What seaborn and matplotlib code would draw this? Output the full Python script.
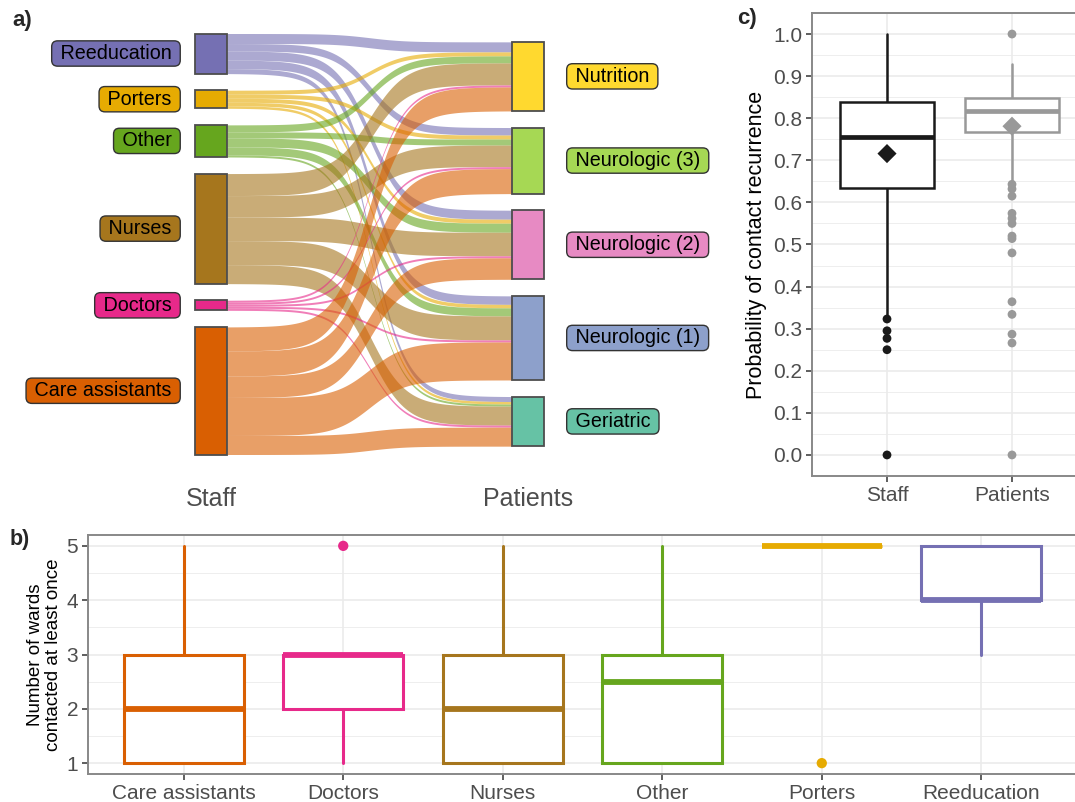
import numpy as np
import matplotlib
matplotlib.use('Agg')
import matplotlib.pyplot as plt
from matplotlib.ticker import MultipleLocator, NullLocator
import seaborn as sns

staff = ['Reeducation', 'Porters', 'Other', 'Nurses', 'Doctors', 'Care assistants']
wards = ['Nutrition', 'Neurologic (3)', 'Neurologic (2)', 'Neurologic (1)', 'Geriatric']
# one list per staff category, values per ward in the order above
reeducation_flow = [10, 7.5, 9, 8.5, 5]
porters_flow = [4, 4, 4, 3.5, 2.5]
other_flow = [7, 6, 9, 8, 2]
nurses_flow = [22, 21.5, 23.5, 24, 19]
doctors_flow = [2, 2, 2, 2, 2]
care_flow = [24, 25, 21.5, 38, 19]

staff_colors = ['#7570B3', '#E6AB02', '#66A61E', '#A6761D', '#E7298A', '#D95F02']
ward_colors = ['#FFD92F', '#A6D854', '#E78AC3', '#8DA0CB', '#66C2A5']

# ---------------- panel b : wards contacted per staff category ----------------
b_groups = ['Care assistants', 'Doctors', 'Nurses', 'Other', 'Porters', 'Reeducation']
b_colors = ['#D95F02', '#E7298A', '#A6761D', '#66A61E', '#E6AB02', '#7570B3']
b_whislo = [1, 1, 1, 1, 5, 3]
b_q1 = [1, 2, 1, 1, 5, 4]
b_med = [2, 3, 2, 2.5, 5, 4]
b_q3 = [3, 3, 3, 3, 5, 5]
b_whishi = [5, 3, 5, 5, 5, 5]
b_outlier_group = ['Doctors', 'Porters']
b_outlier_value = [5, 1]

# ---------------- panel c : probability of contact recurrence ----------------
c_groups = ['Staff', 'Patients']
c_colors = ['#1A1A1A', '#999999']
c_whislo = [0.33, 0.65]
c_q1 = [0.635, 0.768]
c_med = [0.755, 0.816]
c_q3 = [0.839, 0.847]
c_whishi = [1.0, 0.928]
c_mean = [0.716, 0.781]
staff_outliers = [0.323, 0.295, 0.277, 0.25, 0.0]
patient_outliers = [1.0, 0.643, 0.632, 0.615, 0.574, 0.562, 0.55, 0.52, 0.514,
                    0.48, 0.364, 0.334, 0.287, 0.266, 0.0]

sns.set_theme(style='whitegrid')
plt.rcParams['font.family'] = ['Liberation Sans', 'DejaVu Sans']

W, H = 1075, 802
fig = plt.figure(figsize=(W / 100, H / 100), dpi=100)


def px_axes(x0, y0, x1, y1):
    '''axes from pixel box (top-left origin)'''
    return fig.add_axes([x0 / W, 1 - y1 / H, (x1 - x0) / W, (y1 - y0) / H])


# ======================= a) sankey =======================
ax_a = px_axes(0, 0, 740, 480)
flows = np.array([reeducation_flow, porters_flow, other_flow, nurses_flow, doctors_flow, care_flow])
gap = 16.7
node_w = 0.1


def stack_tops(totals):
    span = totals.sum() + gap * (len(totals) - 1)
    return span / 2 - np.concatenate([[0], np.cumsum(totals[:-1] + gap)])


staff_tot = flows.sum(axis=1)
ward_tot = flows.sum(axis=0)
staff_top = stack_tops(staff_tot)
ward_top = stack_tops(ward_tot)

t = np.linspace(-8, 8, 300)
sig = np.exp(t) / (np.exp(t) + 1)
xs = 1 + node_w / 2 + (t + 8) / 16 * (1 - node_w)

for i in range(len(staff)):
    for j in range(len(wards)):
        v = flows[i, j]
        y_from = staff_top[i] - flows[i, :j].sum()
        y_to = ward_top[j] - flows[:i, j].sum()
        top = y_from + sig * (y_to - y_from)
        ax_a.fill_between(xs, top - v, top, color=staff_colors[i], alpha=0.6, lw=0)

ax_a.bar(np.ones(len(staff)), staff_tot, bottom=staff_top - staff_tot, width=node_w,
         color=staff_colors, edgecolor='#4D4D4D', linewidth=1.3, zorder=3)
ax_a.bar(np.full(len(wards), 2.0), ward_tot, bottom=ward_top - ward_tot, width=node_w,
         color=ward_colors, edgecolor='#4D4D4D', linewidth=1.3, zorder=3)

label_box = dict(boxstyle='round,pad=0.16,rounding_size=0.3', ec='#333333', lw=1)
for name, c, y in zip(staff, staff_colors, staff_top - staff_tot / 2):
    ax_a.text(0.893, y, ' ' + name + ' ', ha='right', va='center', fontsize=14.2,
              color='black', zorder=4, bbox=dict(label_box, fc=c))
for name, c, y in zip(wards, ward_colors, ward_top - ward_tot / 2):
    ax_a.text(2.132, y, ' ' + name + ' ', ha='left', va='center', fontsize=14.2,
              color='black', zorder=4, bbox=dict(label_box, fc=c))

ax_a.set_xlim(1 - 211 / 317, 2 + 212 / 317)
ax_a.set_ylim(-236, 244)
ax_a.set_facecolor('white')
ax_a.grid(False)
for sp in ax_a.spines.values():
    sp.set_visible(False)
ax_a.set_yticks([])
ax_a.set_xticks([1, 2], ['Staff', 'Patients'])
ax_a.tick_params(axis='x', length=0, pad=5, labelsize=18, labelcolor='#4D4D4D')


def style_panel(ax):
    ax.set_facecolor('white')
    ax.set_axisbelow(True)
    ax.xaxis.set_minor_locator(NullLocator())
    ax.grid(which='major', axis='both', color='#EBEBEB', lw=1.2)
    ax.grid(which='minor', axis='y', color='#EBEBEB', lw=0.6)
    for sp in ax.spines.values():
        sp.set_color('#888888')
        sp.set_linewidth(1.4)
    ax.tick_params(which='major', length=4, width=1.1, color='#333333',
                   labelcolor='#4D4D4D', pad=3, bottom=True, left=True)
    ax.tick_params(which='minor', length=0)


def draw_boxes(ax, q1, med, q3, lo, hi, colors, lw, med_lw):
    stats = [dict(q1=a, med=b, q3=c, whislo=d, whishi=e, fliers=[])
             for a, b, c, d, e in zip(q1, med, q3, lo, hi)]
    art = ax.bxp(stats, positions=range(len(stats)), widths=0.75, showcaps=False,
                 showfliers=False, patch_artist=True, manage_ticks=False)
    for k, c in enumerate(colors):
        art['boxes'][k].set(facecolor='white', edgecolor=c, linewidth=lw, zorder=2)
        art['medians'][k].set(color=c, linewidth=med_lw, solid_capstyle='butt', zorder=3)
        for w in art['whiskers'][2 * k:2 * k + 2]:
            w.set(color=c, linewidth=lw, zorder=1)


# ======================= b) wards contacted =======================
ax_b = px_axes(88, 535, 1077, 774)
style_panel(ax_b)
draw_boxes(ax_b, b_q1, b_med, b_q3, b_whislo, b_whishi, b_colors, 2.2, 4.2)
sns.scatterplot(x=[b_groups.index(g) for g in b_outlier_group], y=b_outlier_value,
                hue=b_outlier_group, palette=dict(zip(b_groups, b_colors)),
                s=55, edgecolor='none', legend=False, ax=ax_b, zorder=4)
ax_b.set_xlim(-0.6, len(b_groups) - 0.4)
ax_b.set_ylim(0.8, 5.2)
ax_b.yaxis.set_major_locator(MultipleLocator(1))
ax_b.yaxis.set_minor_locator(MultipleLocator(0.5))
ax_b.set_xticks(range(len(b_groups)), b_groups)
ax_b.tick_params(labelsize=15)
ax_b.set_xlabel('')
ax_b.set_ylabel('Number of wards\ncontacted at least once', fontsize=13.5, color='black',
                labelpad=3, linespacing=1.15)

# ======================= c) recurrence =======================
ax_c = px_axes(812, 13, 1087, 476)
style_panel(ax_c)
draw_boxes(ax_c, c_q1, c_med, c_q3, c_whislo, c_whishi, c_colors, 1.8, 3.4)
out_x = [0] * len(staff_outliers) + [1] * len(patient_outliers)
out_g = ['Staff'] * len(staff_outliers) + ['Patients'] * len(patient_outliers)
sns.scatterplot(x=out_x, y=staff_outliers + patient_outliers, hue=out_g,
                palette=dict(zip(c_groups, c_colors)), s=40, edgecolor='none',
                legend=False, ax=ax_c, zorder=4)
sns.scatterplot(x=[0, 1], y=c_mean, hue=c_groups, palette=dict(zip(c_groups, c_colors)),
                marker='D', s=95, edgecolor='none', legend=False, ax=ax_c, zorder=5)
ax_c.set_xlim(-0.6, 1.6)
ax_c.set_ylim(-0.05, 1.05)
ax_c.yaxis.set_major_locator(MultipleLocator(0.1))
ax_c.yaxis.set_minor_locator(MultipleLocator(0.05))
ax_c.set_xticks([0, 1], c_groups)
ax_c.tick_params(labelsize=15)
ax_c.set_xlabel('')
ax_c.set_ylabel('Probability of contact recurrence', fontsize=15.5, color='black', labelpad=4)

# panel tags
fig.text(12 / W, 1 - 10 / H, 'a)', fontsize=16, fontweight='bold', va='top', ha='left')
fig.text(10 / W, 1 - 529 / H, 'b)', fontsize=15.5, fontweight='bold', va='top', ha='left')
fig.text(737 / W, 1 - 8 / H, 'c)', fontsize=16, fontweight='bold', va='top', ha='left')

fig.savefig('out.png', dpi=100, facecolor='white')
